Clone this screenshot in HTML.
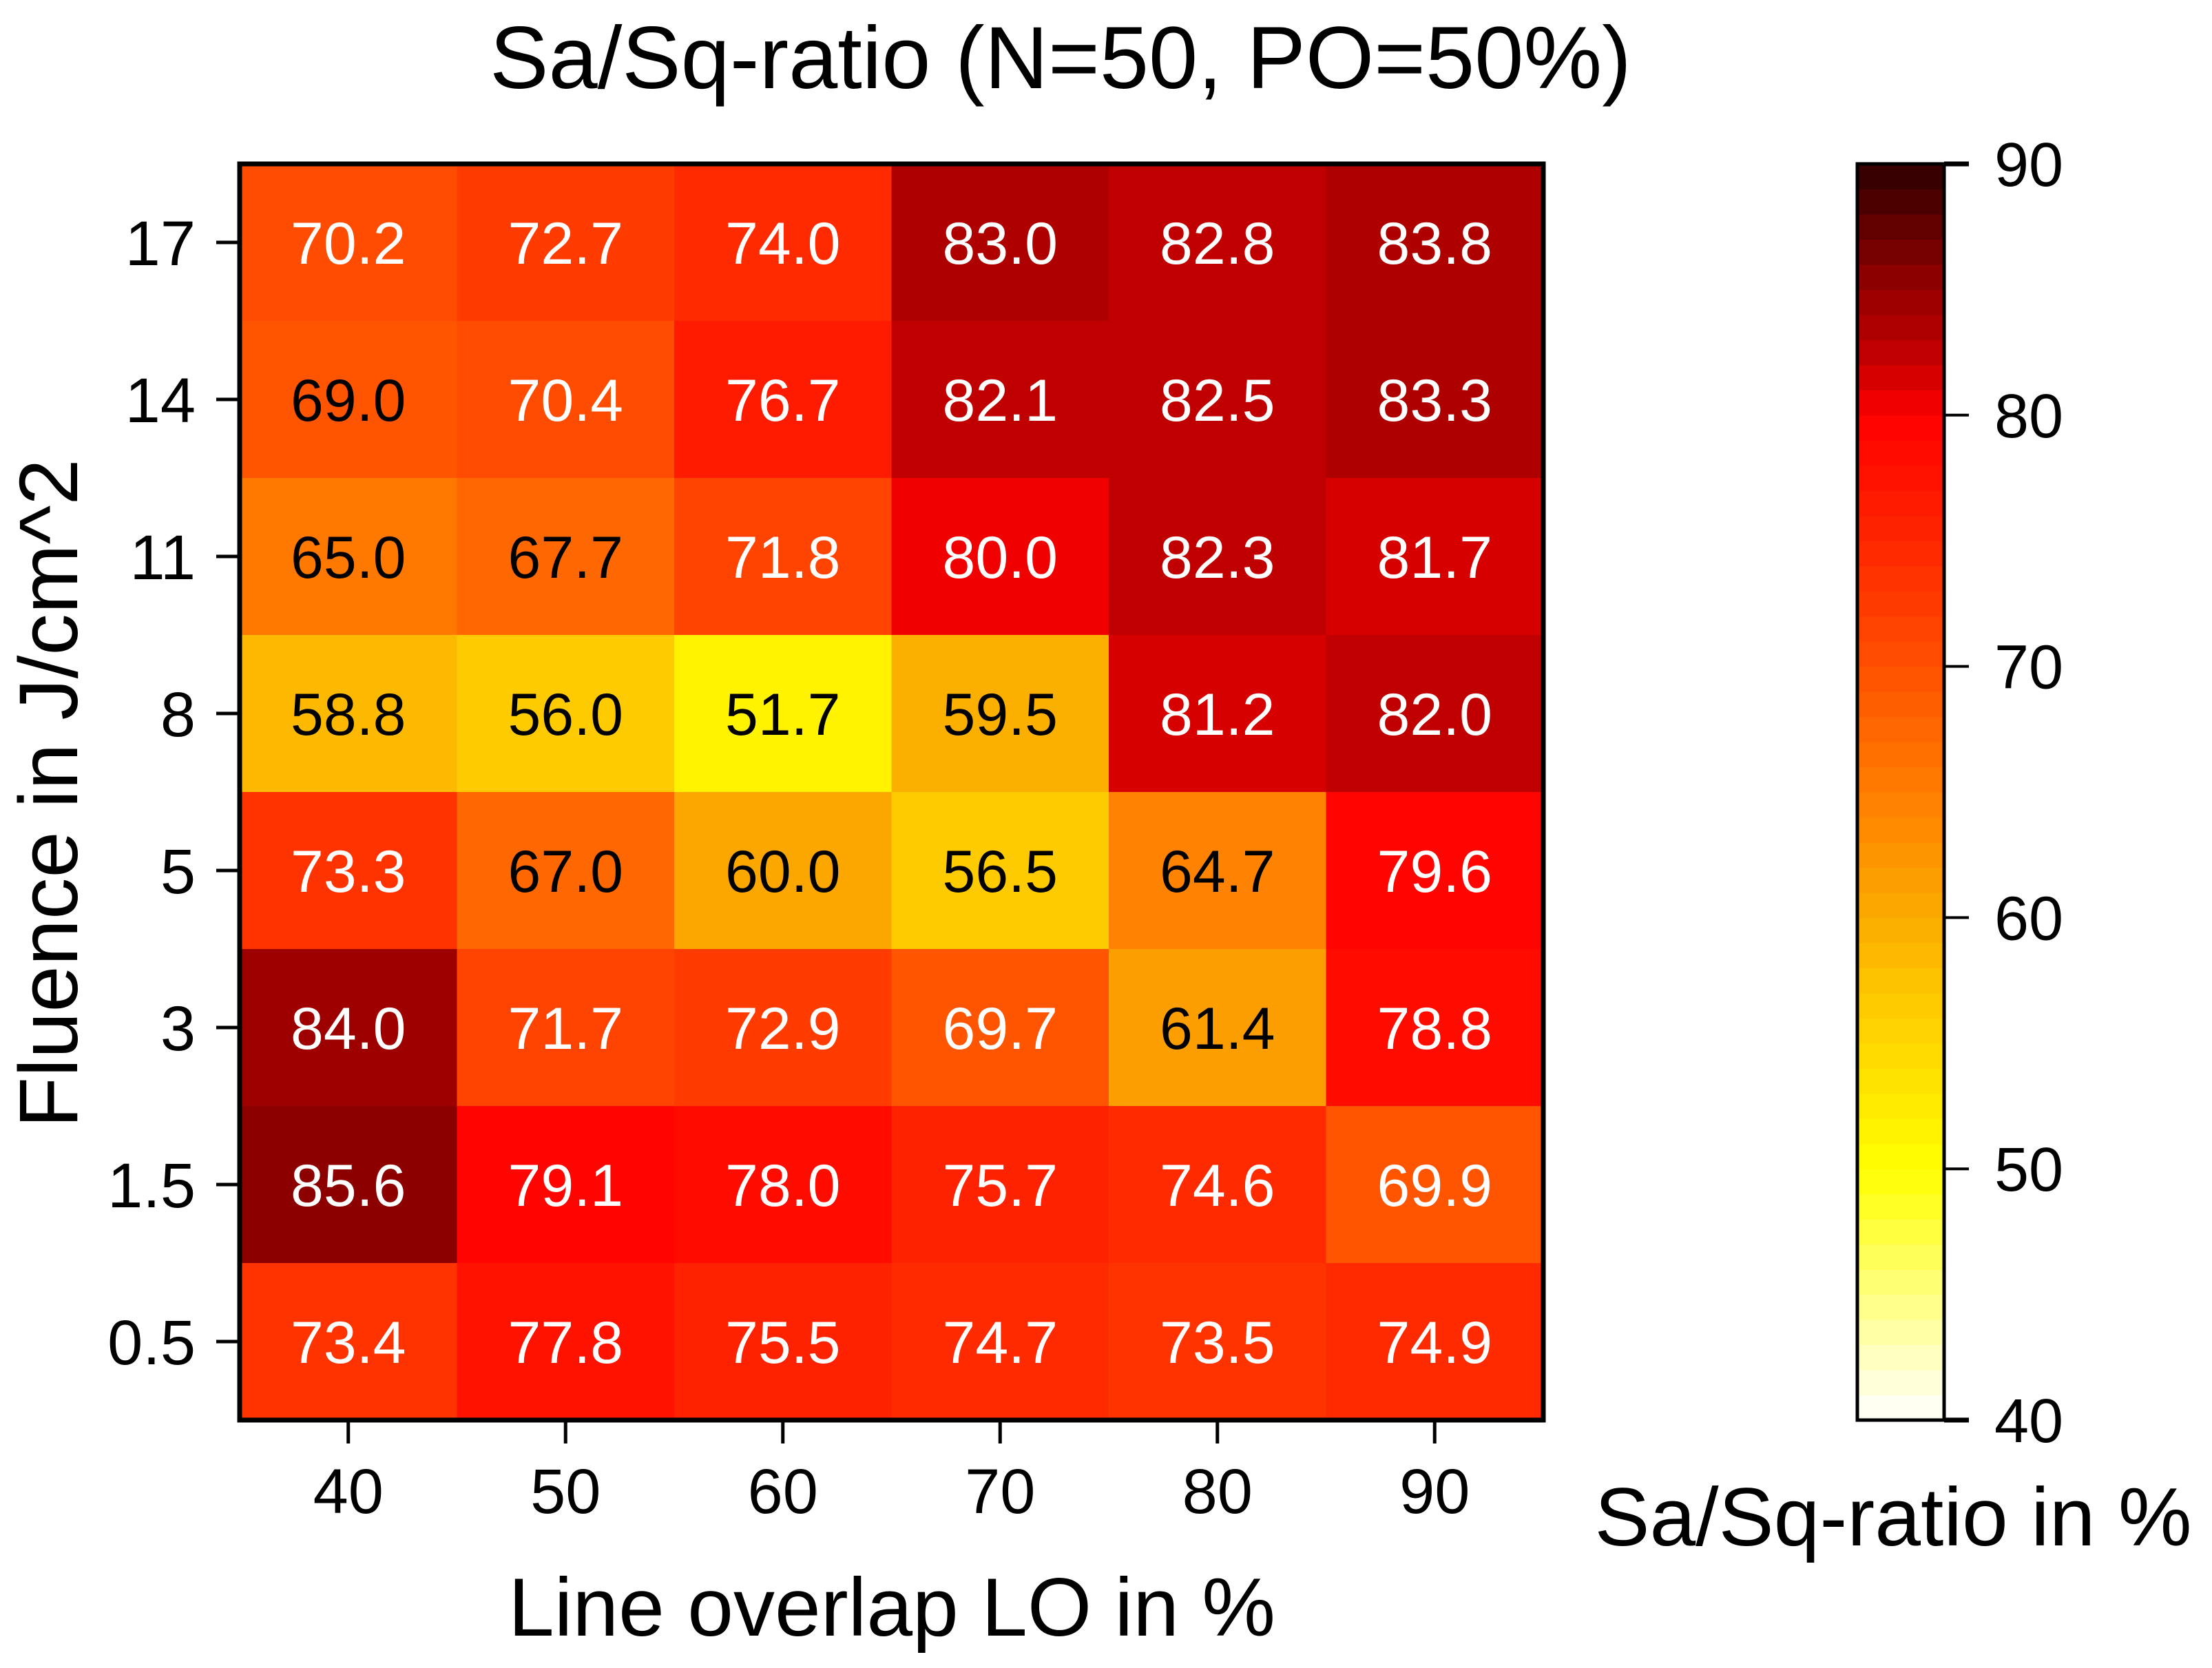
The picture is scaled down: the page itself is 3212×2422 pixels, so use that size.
<!DOCTYPE html>
<html><head><meta charset="utf-8">
<style>
html,body{margin:0;padding:0;background:#fff;}
svg{display:block;font-family:"Liberation Sans",Arial,sans-serif;}
</style></head>
<body>
<svg id="chart" width="3212" height="2422" viewBox="0 0 3212 2422">
  <text x="1540" y="128" font-size="128" text-anchor="middle">Sa/Sq-ratio (N=50, PO=50%)</text>
  <g id="cells"></g>
  <g id="axes"></g>
  <g id="cbar"></g>
  <text x="1295" y="2375" font-size="120" text-anchor="middle">Line overlap LO in %</text>
  <text transform="translate(112,1152) rotate(-90)" font-size="121" text-anchor="middle">Fluence in J/cm^2</text>
  <text x="2749" y="2244" font-size="120" text-anchor="middle">Sa/Sq-ratio in %</text>
</svg>
<script>
const xCategories = ["40","50","60","70","80","90"];
const yCategories = ["17","14","11","8","5","3","1.5","0.5"];
const row17 = [70.2,72.7,74.0,83.0,82.8,83.8];
const row14 = [69.0,70.4,76.7,82.1,82.5,83.3];
const row11 = [65.0,67.7,71.8,80.0,82.3,81.7];
const row8  = [58.8,56.0,51.7,59.5,81.2,82.0];
const row5  = [73.3,67.0,60.0,56.5,64.7,79.6];
const row3  = [84.0,71.7,72.9,69.7,61.4,78.8];
const row1p5= [85.6,79.1,78.0,75.7,74.6,69.9];
const row0p5= [73.4,77.8,75.5,74.7,73.5,74.9];
const colorTicks = [40,50,60,70,80,90];
const rows = [row17,row14,row11,row8,row5,row3,row1p5,row0p5];

const NS="http://www.w3.org/2000/svg";
const L=348,R=2241,T=238,B=2062;
const cw=(R-L)/xCategories.length, ch=(B-T)/yCategories.length;
const xPos=i=>L+cw*i, yPos=j=>T+ch*j;
const CB={l:2697,r:2823,t:238,b:2062,min:40,max:90};
const cbY=v=>CB.b-(v-CB.min)/(CB.max-CB.min)*(CB.b-CB.t);

const stops=[[40,[255,255,255]],[50,[255,255,0]],[55,[255,215,0]],[60,[250,172,0]],[65,[255,125,0]],[70,[255,80,0]],[75,[255,38,0]],[80,[255,0,0]],[82,[200,0,0]],[85,[150,0,0]],[90,[45,0,0]]];
function color(v){
  v=Math.max(40,Math.min(90,v));
  for(let k=0;k<stops.length-1;k++){
    const [a,ca]=stops[k],[b,cb]=stops[k+1];
    if(v<=b){const t=(v-a)/(b-a);const c=ca.map((x,i)=>Math.round(x+(cb[i]-x)*t));return `rgb(${c})`;}
  }
  return "rgb(45,0,0)";
}
function el(tag,attrs,parent){const e=document.createElementNS(NS,tag);for(const k in attrs)e.setAttribute(k,attrs[k]);parent.appendChild(e);return e;}

const cells=document.getElementById('cells');
rows.forEach((row,j)=>{
  row.forEach((v,i)=>{
    const r=el('rect',{x:xPos(i),y:yPos(j),width:cw+0.5,height:ch+0.5,fill:color(Math.floor(v)+0.5)},cells);
    
    
    const t=el('text',{x:xPos(i)+cw/2,y:yPos(j)+ch/2+31,'font-size':86,'text-anchor':'middle',fill:v>=69.5?'#fff':'#000'},cells);
    t.textContent=v.toFixed(1);
    
    
  });
});

const axes=document.getElementById('axes');
const frame=el('rect',{x:L,y:T,width:R-L,height:B-T,fill:'none',stroke:'#000','stroke-width':7},axes);


xCategories.forEach((c,i)=>{
  const x=xPos(i)+cw/2;
  const tk=el('line',{x1:x,x2:x,y1:B,y2:B+34,stroke:'#000','stroke-width':5},axes);
  
  
  const t=el('text',{x:x,y:2197,'font-size':92,'text-anchor':'middle'},axes);
  t.textContent=c;
  
  
});
yCategories.forEach((c,j)=>{
  const y=yPos(j)+ch/2;
  const tk=el('line',{x1:L-34,x2:L,y1:y,y2:y,stroke:'#000','stroke-width':5},axes);
  
  
  const t=el('text',{x:L-64,y:y+33,'font-size':92,'text-anchor':'end'},axes);
  t.textContent=c;
  
  
});

const cbar=document.getElementById('cbar');
for(let v=CB.min;v<CB.max;v++){
  const r=el('rect',{x:CB.l,y:cbY(v+1),width:CB.r-CB.l,height:cbY(v)-cbY(v+1)+0.6,fill:color(v+0.5)},cbar);
  
  
}
const cf=el('rect',{x:CB.l,y:CB.t,width:CB.r-CB.l,height:CB.b-CB.t,fill:'none',stroke:'#000','stroke-width':5},cbar);


colorTicks.forEach(v=>{
  const y=cbY(v);
  const tk=el('line',{x1:CB.r,x2:CB.r+36,y1:y,y2:y,stroke:'#000','stroke-width':(v===90||v===40)?7:4},cbar);
  
  
  const t=el('text',{x:2896,y:y+32,'font-size':90},cbar);
  t.textContent=v;
  
  
});
</script>
</body></html>
